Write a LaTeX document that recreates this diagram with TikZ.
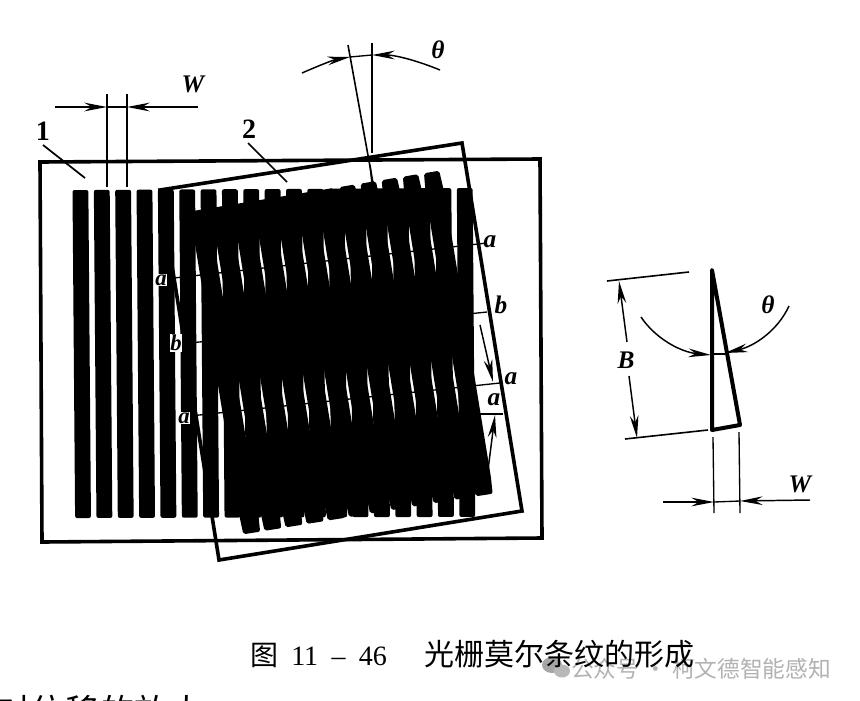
\documentclass[tikz,border=0pt]{standalone}
\usepackage{fontspec}
\newfontfamily\cjk{Noto Sans CJK SC}
\newfontfamily\labfont{Liberation Serif}
\usetikzlibrary{arrows.meta}
\tikzset{
  frameline/.style={draw=black,line width=2.7pt,line join=miter},
  thinline/.style={draw=black,line width=1pt},
  midline/.style={draw=black,line width=1.2pt},
  bandline/.style={draw=black,line width=1pt},
  leader/.style={draw=black,line width=1.3pt},
  thick tri/.style={draw=black,line width=3pt,line join=round,line cap=round},
  dimarrow/.style={draw=black,line width=1.1pt,-{Stealth[length=17pt,width=6.5pt]}},
  lab/.style={font=\labfont\fontsize{19pt}{20pt}\selectfont\bfseries\itshape,inner sep=0pt},
  smalllab/.style={font=\labfont\fontsize{17pt}{18pt}\selectfont\bfseries\itshape,inner sep=0.6pt},
  numlab/.style={font=\labfont\fontsize{21pt}{22pt}\selectfont\bfseries,inner sep=0pt},
  captext/.style={inner sep=0pt,anchor=base west,text=black},
}
\begin{document}
\begin{tikzpicture}[x=0.75pt,y=-0.75pt]
\path[use as bounding box,fill=white] (0,0) rectangle (860,700);
% grating 1
\foreach \k in {0,...,18}{
  \pgfmathsetmacro{\xl}{72.5+21.35*\k}
  \pgfmathsetmacro{\ytop}{190-0.11*\k}
  \pgfmathsetmacro{\ybot}{518-0.06*\k}
  \fill[black,rounded corners=1.5pt] (\xl,\ytop) -- (\xl+15.85,\ytop) -- (\xl+15.85+2.6,\ybot) -- (\xl+2.6,\ybot) -- cycle;
}
% grating 2
\foreach \j in {-1,...,10}{
  \pgfmathsetmacro{\uc}{186.55+21.7*\j}
  \pgfmathsetmacro{\yt}{172+(10-\j)*3.45}
  \pgfmathsetmacro{\yb}{\yt+323}
  \pgfmathsetmacro{\xt}{\uc+0.163*\yt}
  \pgfmathsetmacro{\xb}{\uc+0.163*\yb}
  \pgfmathsetmacro{\xtt}{\uc+0.163*(\yt+24)}
  \pgfmathsetmacro{\xbb}{\uc+0.163*(\yb-18)}
  \fill[black,rounded corners=1.5pt] (\xt-7.6,\yt+1.3) -- (\xt+7.6,\yt-1.3)
     -- (\xtt+9.6,\yt+24) -- (\xbb+9.6,\yb-18)
     -- (\xb+8.4,\yb-1.3) -- (\xb-8.4,\yb+1.3)
     -- (\xbb-9.6,\yb-18) -- (\xtt-9.6,\yt+24) -- cycle;
}
% frames
\draw[frameline] (40,162) -- (540,159) -- (542,538) -- (42,542) -- cycle;
\draw[frameline] (160,190) -- (462,143) -- (522,511) -- (219,560) -- cycle;
% moire band lines
\draw[bandline] (165,279) -- (487,243);
\draw[bandline] (180,344) -- (487,312);
\draw[bandline] (190,416) -- (500,383);
\draw[bandline] (477,414) -- (503,414);
% right side dimension arrows of B
\draw[dimarrow] (480,325) -- (493,382);
\draw[dimarrow] (488,470) -- (495,415);
% W at top
\draw[thinline] (107,94) -- (107,187);
\draw[thinline] (127,94) -- (127,187);
\draw[thinline] (107,107) -- (127,107);
\draw[dimarrow] (55,107) -- (107,107);
\draw[dimarrow] (198,107) -- (127,107);
\node[lab] (wtop) at (193,84) {W};
% theta at top
\draw[midline] (348,45) -- (373,183);
\draw[midline] (372,43) -- (372,153);
\draw[midline] (370,165) -- (372,183);
\draw[thinline] (350,57) -- (372,55);
\draw[dimarrow] (302,73) .. controls (318,66) and (333,60) .. (350,57);
\draw[dimarrow] (440,70) .. controls (418,61) and (396,55) .. (372,55);
\node[lab] (thtop) at (438,50) {θ};
% leaders
\node[numlab] (one) at (43,131) {1};
\node[numlab] (two) at (249,129) {2};
\draw[leader] (43,145) -- (85,178);
\draw[leader] (248,143) -- (287,182);
% band labels
\node[smalllab,fill=white] (la1) at (161,280) {a};
\node[smalllab,fill=white] (lb1) at (176,343) {b};
\node[smalllab,fill=white] (la2) at (184,418) {a};
\node[lab] (ra1) at (490,242) {a};
\node[lab] (rb) at (501,305) {b};
\node[lab] (ra2) at (511,379) {a};
\node[lab] (ra3) at (494,400) {a};
% triangle detail
\draw[thick tri] (712,270) -- (712,430) -- (740,425) -- cycle;
\draw[midline] (607,281) -- (689,272);
\draw[midline] (625,439) -- (708,430);
\draw[dimarrow] (627,342) -- (619,281);
\draw[dimarrow] (629,376) -- (637,438);
\node[lab] (bl) at (626,360) {B};
\draw[dimarrow] (641,317) .. controls (655,338) and (680,352) .. (711,355);
\draw[dimarrow] (789,306) .. controls (778,330) and (755,346) .. (725,353);
\draw[thinline] (711,354) -- (725,354);
\node[lab] (thr) at (768,305) {θ};
\draw[thinline] (713,437) -- (714,513);
\draw[thinline] (739,432) -- (740,513);
\draw[thinline] (714,502) -- (740,501);
\draw[dimarrow] (663,502) -- (714,502);
\draw[dimarrow] (810,500) -- (740,501);
\node[lab] (wr) at (800,484) {W};
% watermark
\fill[black!35] (552,665) ellipse (10 and 8);
\fill[black!28] (562,671) ellipse (8 and 6.5);
\node[captext,text=black!30,font=\cjk\fontsize{17pt}{19pt}\selectfont] (wm) at (571,677) {公众号 · 柯文德智能感知};
% caption
\node[captext,font=\cjk\fontsize{21pt}{23pt}\selectfont] (capa) at (250,665) {图};
\node[captext,font=\labfont\fontsize{21pt}{23pt}\selectfont] (capb) at (291,665) {11\hspace{10pt}–\hspace{10pt}46};
\node[captext,font=\cjk\fontsize{22.5pt}{25pt}\selectfont] (capc) at (424,665) {光栅莫尔条纹的形成};
% cut-off next line
\begin{scope}
\clip (0,0) rectangle (860,700);
\node[captext,font=\cjk\fontsize{26pt}{28pt}\selectfont] (nextline) at (-4,724) {对位移的放大};
\end{scope}
\end{tikzpicture}
\end{document}
